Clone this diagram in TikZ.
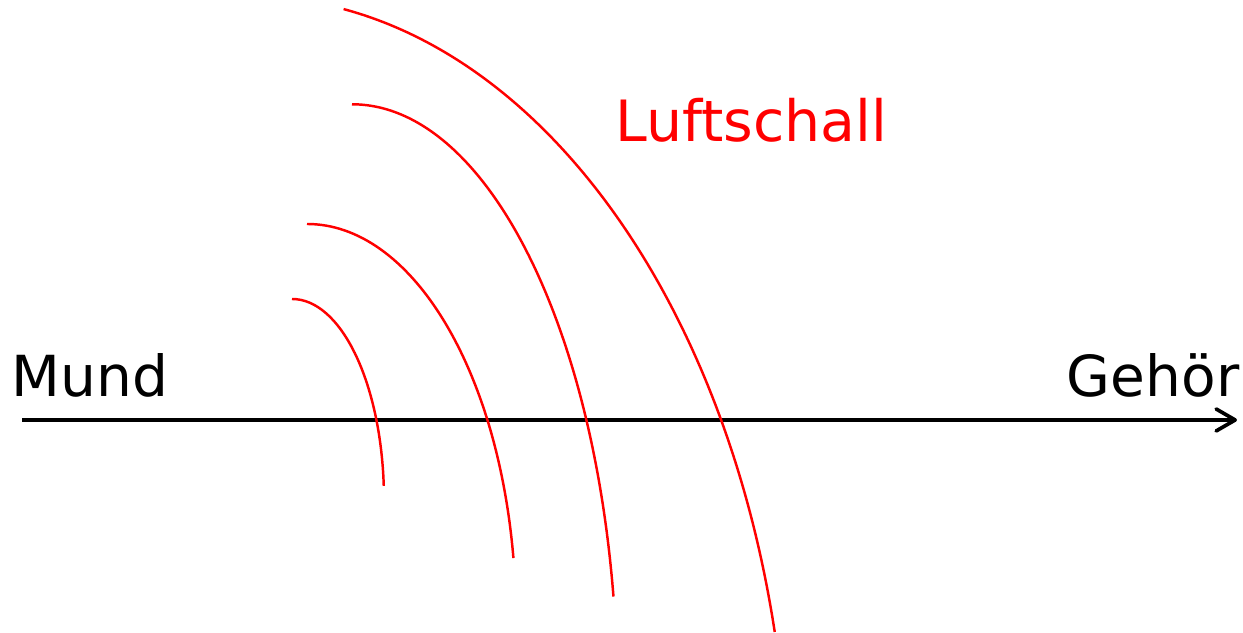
\documentclass[tikz,border=0pt]{standalone}
\usepackage{fontspec}
\setmainfont{DejaVu Sans}
\usetikzlibrary{arrows.meta}

\begin{document}
\begin{tikzpicture}[
  wave/.style={red, line width=0.7pt},
  txt/.style={inner sep=0pt, font=\fontsize{16.1}{19}\selectfont}
]
\useasboundingbox (0,0) rectangle (12.43,6.33);

% axis
\coordinate (mouth) at (0.22, 2.13);
\coordinate (ear) at (12.37, 2.13);
\draw[line width=1.05pt, -{Straight Barb[length=1.9mm, width=2.2mm, round]}] (mouth) -- (ear);

\node[txt, anchor=base west] (mund) at (0.11, 2.363) {Mund};
\node[txt, anchor=base east] (gehoer) at (12.40, 2.363) {Gehör};
\node[txt, red, anchor=base west, font=\fontsize{16.2}{19}\selectfont] (luft) at (6.15, 4.913) {Luftschall};

% waves
\coordinate (w1) at (2.92, 3.34);
\coordinate (w2) at (3.07, 4.09);
\coordinate (w3) at (3.52, 5.287);
\coordinate (w4) at (3.436, 6.239);

\draw[wave] (w1) arc[start angle=90, end angle=4, x radius=0.92, y radius=2.01];
\draw[wave] (w2) arc[start angle=90, end angle=9, x radius=2.09, y radius=3.96];
\draw[wave] (w3) arc[start angle=90, end angle=10, x radius=2.655, y radius=5.957];
\draw[wave] (w4) arc[start angle=80, end angle=13.2, x radius=5.39, y radius=8.234];

\end{tikzpicture}
\end{document}
